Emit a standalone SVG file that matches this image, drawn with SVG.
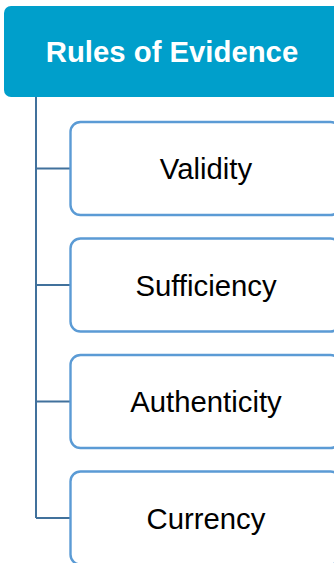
<svg xmlns="http://www.w3.org/2000/svg" width="334" height="563" viewBox="0 0 334 563">
  <style>
    .child rect { fill: #ffffff; stroke: #5B9BD5; stroke-width: 2.4; }
    .child text { font-family: "Liberation Sans", Arial, sans-serif; font-size: 29.3px; fill: #000000; text-anchor: middle; }
    .link { fill: none; stroke: #41719C; stroke-width: 2; }
  </style>
  <rect width="334" height="563" fill="#ffffff"/>

  <!-- connectors: trunk from the header and one branch per item -->
  <g id="connectors">
    <path class="link" d="M36 97 V518"/>
    <path class="link" d="M36 168.5 H70"/>
    <path class="link" d="M36 285 H70"/>
    <path class="link" d="M36 401.5 H70"/>
    <path class="link" d="M36 518 H70"/>
  </g>

  <g id="header">
    <rect x="4" y="6" width="340" height="91" rx="7" fill="#009FCB"/>
    <text x="172" y="62" font-family="'Liberation Sans', Arial, sans-serif" font-size="29.3px" font-weight="bold" fill="#ffffff" text-anchor="middle">Rules of Evidence</text>
  </g>

  <g id="validity" class="child">
    <rect x="70.5" y="122" width="270" height="93" rx="10"/>
    <text x="206" y="179">Validity</text>
  </g>
  <g id="sufficiency" class="child">
    <rect x="70.5" y="238.5" width="270" height="93" rx="10"/>
    <text x="206" y="295.5">Sufficiency</text>
  </g>
  <g id="authenticity" class="child">
    <rect x="70.5" y="355" width="270" height="93" rx="10"/>
    <text x="206" y="412">Authenticity</text>
  </g>
  <g id="currency" class="child">
    <rect x="70.5" y="471.5" width="270" height="93" rx="10"/>
    <text x="206" y="529">Currency</text>
  </g>
</svg>
